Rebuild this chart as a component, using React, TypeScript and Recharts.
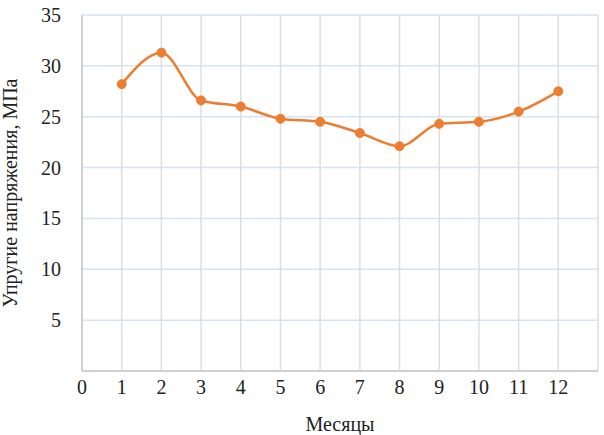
import React from "react";
import { LineChart, Line, XAxis, YAxis, CartesianGrid } from "recharts";

const months = [1, 2, 3, 4, 5, 6, 7, 8, 9, 10, 11, 12];
const stress = [28.2, 31.3, 26.6, 26.0, 24.8, 24.5, 23.4, 22.1, 24.3, 24.5, 25.5, 27.5];
const xTicks = [0, 1, 2, 3, 4, 5, 6, 7, 8, 9, 10, 11, 12];
const yTicks = [0, 5, 10, 15, 20, 25, 30, 35];

const data = months.map((m, i) => ({ month: m, value: stress[i] }));

const font = "Liberation Serif";

const YTick = (props: any) => {
  const { x, y, payload } = props;
  if (payload.value === 0) return null;
  return (
    <text x={x} y={y} dy={7} textAnchor="end" fontFamily={font} fontSize={20} fill="#222">
      {payload.value}
    </text>
  );
};

const XTick = (props: any) => {
  const { x, y, payload } = props;
  return (
    <text x={x} y={y} dy={15} textAnchor="middle" fontFamily={font} fontSize={20} fill="#222">
      {payload.value}
    </text>
  );
};

export default function App() {
  return (
    <div
      style={{
        position: "absolute",
        left: 0,
        top: 0,
        width: 604,
        height: 435,
        background: "#fff",
        fontFamily: font,
      }}
    >
      <LineChart
        width={604}
        height={435}
        data={data}
        margin={{ top: 15, right: 6, bottom: 0, left: 0 }}
      >
        <CartesianGrid horizontal={true} vertical={false} stroke="#d5e3f3" strokeWidth={1.5} />
        <CartesianGrid horizontal={false} vertical={true} stroke="#dedede" strokeWidth={1.5} />
        <XAxis
          dataKey="month"
          type="number"
          domain={[0, 13]}
          ticks={xTicks}
          interval={0}
          tickLine={false}
          axisLine={{ stroke: "#d0d0d0", strokeWidth: 2 }}
          tickMargin={2}
          height={64}
          tick={<XTick />}
          label={{
            value: "Месяцы",
            position: "insideBottom",
            offset: 4,
            fontFamily: font,
            fontSize: 20,
            fill: "#222",
          }}
        />
        <YAxis
          type="number"
          domain={[0, 35]}
          ticks={yTicks}
          interval={0}
          tickLine={false}
          axisLine={{ stroke: "#d0d0d0", strokeWidth: 2 }}
          tickSize={18}
          tickMargin={3}
          width={82}
          tick={<YTick />}
          label={{
            value: "Упругие напряжения, МПа",
            angle: -90,
            position: "insideLeft",
            offset: 10,
            fontFamily: font,
            fontSize: 20,
            fill: "#222",
            style: { textAnchor: "middle" },
          }}
        />
        <Line
          type="monotone"
          dataKey="value"
          stroke="#ED7D31"
          strokeWidth={2.5}
          dot={{ r: 4.5, fill: "#ED7D31", stroke: "#ED7D31", strokeWidth: 1 }}
          isAnimationActive={false}
        />
      </LineChart>
    </div>
  );
}
